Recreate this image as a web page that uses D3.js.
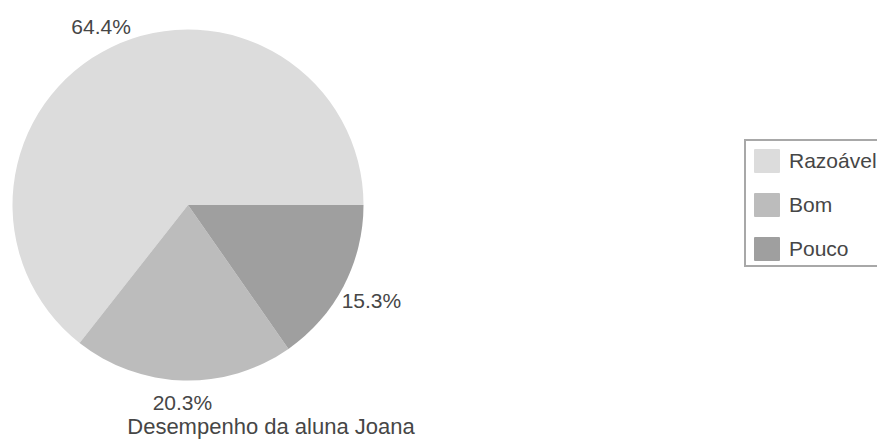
<!DOCTYPE html>
<html>
<head>
<meta charset="utf-8">
<script src="https://cdn.jsdelivr.net/npm/d3@7"></script>
<style>
  html, body { margin: 0; padding: 0; background: #ffffff; }
  svg { display: block; font-family: "Liberation Sans", Arial, Helvetica, sans-serif; }
</style>
</head>
<body>
<svg id="chart" width="877" height="439"></svg>
<script>
// ---- data ----
const categories = ["Razoável", "Bom", "Pouco"];
const percentages = [64.4, 20.3, 15.3];
const colors = ["#dcdcdc", "#bcbcbc", "#9f9f9f"];
const title = "Desempenho da aluna Joana";

// ---- layout ----
const W = 877, H = 439;
const cx = 188, cy = 205, radius = 175.5;
const labelFont = 21;
const textColor = "#464646";

const svg = d3.select("#chart");

const data = categories.map((c, i) => ({ name: c, value: percentages[i], color: colors[i] }));

const pie = d3.pie()
  .value(d => d.value)
  .sort(null)
  .startAngle(Math.PI / 2)
  .endAngle(Math.PI / 2 - 2 * Math.PI);

const arcs = pie(data);
const arc = d3.arc().innerRadius(0).outerRadius(radius);

const g = svg.append("g").attr("transform", `translate(${cx},${cy})`);

g.selectAll("path.slice")
  .data(arcs)
  .enter().append("path")
  .attr("class", "slice")
  .attr("d", arc)
  .attr("fill", d => d.data.color)
  .attr("stroke", "none");

// labels outside the pie
const fmt = d3.format(".1f");
g.selectAll("text.pct")
  .data(arcs)
  .enter().append("text")
  .attr("class", "pct")
  .attr("font-size", labelFont)
  .attr("fill", textColor)
  .attr("text-anchor", "middle")
  .attr("dominant-baseline", "central")
  .text(d => fmt(d.data.value) + "%")
  .each(function(d) {
    const a = (d.startAngle + d.endAngle) / 2; // d3 angle: 0 at 12 o'clock, clockwise
    const dx = Math.sin(a), dy = -Math.cos(a);
    const bb = this.getBBox();
    const hw = bb.width / 2, hh = labelFont * 0.36;
    const ex = Math.abs(dx) > 1e-6 ? hw / Math.abs(dx) : Infinity;
    const ey = Math.abs(dy) > 1e-6 ? hh / Math.abs(dy) : Infinity;
    const R = radius + 15 + Math.min(ex, ey);
    d3.select(this).attr("x", R * dx).attr("y", R * dy);
  });

// title
svg.append("text")
  .attr("x", 271)
  .attr("y", 434)
  .attr("text-anchor", "middle")
  .attr("font-size", 22)
  .attr("fill", textColor)
  .text(title);

// legend
const lg = svg.append("g").attr("transform", "translate(745,140)");
lg.append("rect")
  .attr("x", 0).attr("y", 0)
  .attr("width", 140).attr("height", 126)
  .attr("fill", "#ffffff")
  .attr("stroke", "#a8a8a8")
  .attr("stroke-width", 2);

const items = lg.selectAll("g.item")
  .data(data)
  .enter().append("g")
  .attr("class", "item")
  .attr("transform", (d, i) => `translate(9,${9 + i * 44})`);

items.append("rect")
  .attr("width", 26).attr("height", 24)
  .attr("rx", 1)
  .attr("fill", d => d.color);

items.append("text")
  .attr("x", 35)
  .attr("y", 19)
  .attr("font-size", labelFont)
  .attr("fill", textColor)
  .text(d => d.name);
</script>
</body>
</html>
